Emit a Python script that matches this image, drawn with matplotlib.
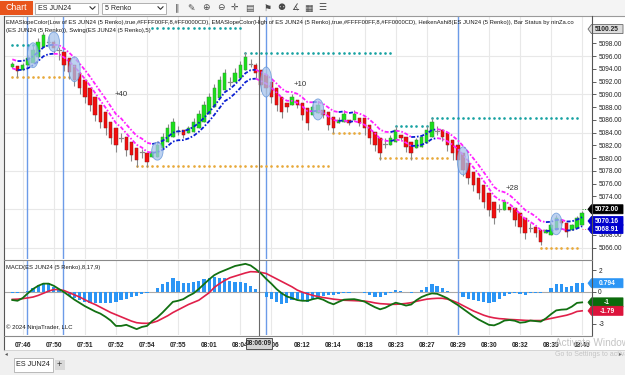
import numpy as np
import pandas as pd
import matplotlib
matplotlib.use("Agg")
import matplotlib.pyplot as plt
from matplotlib.patches import Rectangle, Ellipse, Polygon

plt.rcParams['font.family'] = ['Liberation Sans', 'DejaVu Sans']

# ---------------- data ----------------
ha_open = [5094.3, 5094.4, 5093.8, 5094.6, 5094.9, 5095.9, 5097.5, 5098.4, 5098.3, 5097.2,
           5096.7, 5095.7, 5094.6, 5093.4, 5092.3, 5091.0, 5089.6, 5088.4, 5087.3, 5085.7,
           5084.7, 5083.4, 5083.3, 5082.5, 5081.6, 5080.6, 5080.8, 5080.2, 5080.2, 5081.6,
           5082.5, 5083.3, 5084.5, 5084.4, 5084.0, 5084.1, 5084.7, 5085.7, 5087.0, 5088.0,
           5089.4, 5090.7, 5092.1, 5092.0, 5092.6, 5093.8, 5095.0, 5094.6, 5093.8, 5093.0,
           5092.0, 5091.0, 5089.6, 5088.7, 5088.4, 5089.1, 5088.7, 5087.9, 5086.8, 5087.1,
           5087.6, 5087.3, 5086.5, 5085.5, 5085.7, 5086.0, 5086.0, 5086.3, 5086.3, 5085.2,
           5084.1, 5083.2, 5082.5, 5082.1, 5082.5, 5083.6, 5083.3, 5082.5, 5081.6, 5081.8,
           5082.4, 5083.3, 5084.5, 5084.4, 5083.9, 5082.8, 5082.1, 5080.8, 5079.3, 5077.9,
           5076.9, 5075.8, 5074.6, 5073.2, 5072.3, 5071.9, 5072.4, 5072.2, 5071.4, 5070.6,
           5069.3, 5069.2, 5068.7, 5068.3, 5068.0, 5068.7, 5070.3, 5069.8, 5068.7, 5069.0,
           5069.5]
ha_close = [5094.8, 5093.6, 5094.6, 5095.7, 5097.0, 5098.2, 5099.3, 5098.2, 5097.3, 5096.9,
            5094.6, 5093.5, 5092.3, 5091.0, 5089.6, 5088.4, 5086.8, 5085.7, 5084.7, 5083.2,
            5082.0, 5083.2, 5081.3, 5080.5, 5079.7, 5080.9, 5079.4, 5080.9, 5082.1, 5083.3,
            5084.7, 5085.7, 5084.3, 5083.6, 5084.7, 5085.7, 5087.0, 5088.4, 5089.6, 5091.0,
            5092.3, 5093.4, 5091.9, 5093.4, 5094.6, 5095.9, 5094.8, 5093.4, 5091.5, 5091.0,
            5089.6, 5088.4, 5087.3, 5088.0, 5089.6, 5088.4, 5086.8, 5085.5, 5088.0, 5088.4,
            5086.8, 5085.2, 5084.7, 5086.0, 5087.0, 5085.5, 5087.0, 5085.5, 5084.7, 5083.2,
            5082.1, 5080.8, 5082.3, 5083.2, 5084.4, 5083.2, 5081.8, 5080.8, 5082.8, 5083.3,
            5084.4, 5085.7, 5084.3, 5083.3, 5082.1, 5080.8, 5079.7, 5078.2, 5076.9, 5075.8,
            5074.6, 5073.2, 5071.9, 5070.7, 5072.1, 5073.2, 5071.9, 5070.3, 5069.2, 5068.3,
            5069.1, 5068.3, 5066.9, 5068.7, 5069.5, 5070.6, 5069.8, 5068.4, 5069.5, 5070.6,
            5071.4]
wick_up = [0.3, 0, 0.3, 0.5, 0.6, 0.6, 0.5, 0.8, 0.3, 0.3,
           0, 0, 0, 0, 0, 0, 0, 0, 0, 0,
           0, 0.6, 0, 0, 0, 0.5, 0, 0.3, 0.6, 0.6,
           0.6, 0.6, 0.6, 0, 0.4, 0.6, 0.6, 0.6, 0.6, 0.6,
           0.6, 0.6, 0.6, 0.7, 0.7, 0.7, 0.5, 0.3, 0, 0,
           0, 0, 0, 0, 0.4, 0, 0, 0, 0.5, 0.5,
           0, 0, 0, 0.4, 0.6, 0, 0.5, 0, 0, 0,
           0, 0, 0.7, 0.4, 0.6, 0, 0, 0, 0.3, 0.4,
           0.6, 0.6, 0.6, 0.2, 0, 0, 0, 0, 0, 0,
           0, 0, 0, 0, 0.6, 0.4, 0, 0, 0, 0,
           0.6, 0, 0, 0.2, 0.3, 0.5, 0, 0, 0.2, 0.3, 0.4]
wick_dn = [0.2, 0.8, 0, 0, 0, 0, 0, 0.8, 0.8, 1.5,
           1, 1, 1, 1, 1, 1, 1, 1, 1, 1,
           1, 0.6, 1, 1, 1, 0.5, 0.8, 0, 0, 0,
           0, 0, 0.6, 0.5, 0, 0, 0, 0, 0, 0,
           0, 0, 0.6, 0, 0, 0, 0.5, 0.8, 1, 1,
           1, 1, 1, 0.8, 0, 0.6, 0.8, 1, 0, 0,
           0.5, 0.8, 0.8, 0, 0, 0.3, 0, 0.4, 1, 1,
           1, 1, 0.7, 0, 0, 0.4, 0.8, 1, 0, 0,
           0, 0, 0.6, 0.6, 1, 1, 1, 1, 1, 1,
           1, 1, 1, 1, 0.6, 0, 0.4, 1, 1, 1,
           0.6, 0.6, 0.5, 0, 0, 0, 0.3, 0.8, 0, 0, 0]

macd = [-0.78, -0.85, -0.6, -0.15, 0.25, 0.55, 0.75, 0.75, 0.55, 0.25,
        -0.05, -0.4, -0.75, -1.05, -1.35, -1.6, -1.85, -2.05, -2.35, -2.7,
        -3.2, -3.2, -3.1, -3.3, -3.5, -3.3, -3.2, -2.75, -2.4, -1.95,
        -1.45, -0.95, -0.85, -0.7, -0.4, -0.15, 0.25, 0.7, 1.15, 1.55,
        1.8, 2.0, 2.2, 2.4, 2.5, 2.6, 2.45, 2.1, 1.7, 1.2,
        0.75, 0.25, -0.15, -0.45, -0.6, -0.78, -0.85, -0.85, -0.7, -0.6,
        -0.75, -1.0, -1.18, -0.95, -0.75, -0.72, -0.7, -0.8, -0.93, -1.2,
        -1.45, -1.65, -1.5, -1.25, -1.03, -1.15, -1.3, -1.2, -0.8, -0.5,
        -0.3, -0.16, -0.2, -0.4, -0.62, -0.95, -1.25, -1.6, -1.95, -2.3,
        -2.6, -2.85, -3.1, -3.15, -2.96, -2.7, -2.65, -2.72, -2.9, -2.85,
        -2.7, -2.75, -2.8, -2.5, -2.1, -1.75, -1.68, -1.65, -1.4, -1.05, -1.0]
signal = [-0.72, -0.7, -0.65, -0.58, -0.5, -0.35, -0.15, 0.05, 0.2, 0.2,
          0.1, -0.1, -0.3, -0.5, -0.75, -1.0, -1.2, -1.45, -1.7, -1.95,
          -2.15, -2.35, -2.55, -2.75, -2.9, -2.95, -2.96, -2.9, -2.75, -2.5,
          -2.25, -1.95, -1.7, -1.45, -1.2, -1.0, -0.8, -0.45, -0.1, 0.4,
          0.75, 1.05, 1.3, 1.45, 1.6, 1.75, 1.87, 1.85, 1.8, 1.7,
          1.45, 1.2, 0.95, 0.7, 0.45, 0.15, -0.05, -0.2, -0.35, -0.45,
          -0.55, -0.62, -0.7, -0.75, -0.8, -0.82, -0.84, -0.86, -0.88, -0.95,
          -1.05, -1.12, -1.15, -1.18, -1.18, -1.15, -1.1, -1.03, -0.9, -0.8,
          -0.7, -0.65, -0.62, -0.62, -0.7, -0.85, -1.05, -1.3, -1.55, -1.8,
          -2.0, -2.2, -2.35, -2.45, -2.52, -2.55, -2.6, -2.62, -2.65, -2.68,
          -2.7, -2.7, -2.7, -2.6, -2.5, -2.4, -2.3, -2.2, -2.05, -1.85, -1.79]
hist = [-0.15, -0.12, -0.05, 0.1, 0.3, 0.6, 0.78, 0.78, 0.47, 0.22,
        0.0, -0.45, -0.62, -0.78, -0.93, -1.03, -1.09, -1.09, -1.09, -1.09,
        -0.93, -0.78, -0.7, -0.47, -0.42, -0.22, -0.16, -0.03, 0.31, 0.72,
        0.93, 1.25, 1.03, 0.84, 0.84, 0.93, 1.03, 1.15, 1.31, 1.34,
        1.31, 1.25, 1.03, 0.93, 0.87, 0.84, 0.53, 0.22, 0.0, -0.47,
        -0.72, -0.93, -1.15, -1.03, -0.78, -0.72, -0.78, -0.93, -0.72, -0.6,
        -0.4, -0.31, -0.31, -0.25, -0.16, -0.1, -0.06, -0.05, -0.16, -0.31,
        -0.47, -0.53, -0.31, -0.16, 0.16, 0.1, 0.0, -0.16, 0.0, 0.2,
        0.47, 0.68, 0.56, 0.31, 0.1, 0.0, -0.06, -0.47, -0.72, -0.78,
        -0.84, -0.93, -1.03, -1.0, -0.72, -0.4, -0.25, -0.16, -0.25, -0.31,
        -0.16, -0.1, -0.16, -0.06, 0.31, 0.68, 0.68, 0.47, 0.56, 0.78, 0.79]

time_labels = ['07:46', '07:50', '07:51', '07:52', '07:54', '07:55', '08:01', '08:04', '08:06',
               '08:12', '08:14', '08:18', '08:23', '08:27', '08:29', '08:30', '08:32', '08:35', '08:40']
time_label_bars = [2, 8, 14, 20, 26, 32, 38, 44, 50, 56, 62, 68, 74, 80, 86, 92, 98, 104, 110]
price_ticks = [5066, 5068, 5070, 5072, 5074, 5076, 5078, 5080, 5082, 5084, 5086, 5088,
               5090, 5092, 5094, 5096, 5098]
price_grid = [5066, 5072, 5078, 5084, 5090, 5096]
macd_ticks = [2, 0, -3]

# swing lines: (first bar, last bar, price)
swing_highs = [(0, 4, 5097.8), (27, 44, 5100.4), (45, 73, 5096.5), (74, 80, 5085.1), (81, 109, 5086.3)]
swing_lows = [(0, 11, 5092.7), (24, 61, 5078.8), (62, 67, 5083.9), (71, 84, 5080.1), (102, 109, 5066.0)]
# highlighted bars: (bar, low price, high price)
marks = [(4, 5094.2, 5098.1), (8, 5096.7, 5099.8), (12, 5092.0, 5095.9), (28, 5079.7, 5082.5),
         (49, 5089.6, 5094.3), (59, 5086.0, 5089.3), (87, 5077.4, 5081.8), (105, 5068.0, 5071.4)]
signal_bars = [2.8, 9.85, 48.9, 86.0]
notes = [(21, 5090.0, '+40'), (55.5, 5091.5, '+10'), (96.5, 5075.2, '+28')]

last_price = 5072.00
ema_hi_last, ema_lo_last = 5070.16, 5068.91
top_price_label = 5100.25

# ---------------- layout ----------------
W, H = 625, 375
fig = plt.figure(figsize=(W / 100, H / 100), dpi=100)
fig.patch.set_facecolor('#F0F0F0')


def pax(x0, y0, x1, y1):
    return fig.add_axes([x0 / W, 1 - y1 / H, (x1 - x0) / W, (y1 - y0) / H])


base = pax(0, 0, W, H)
base.set_xlim(0, W); base.set_ylim(H, 0); base.axis('off'); base.set_zorder(0)
base.add_patch(Rectangle((4, 16), W - 4, 334, fc='white', ec='none'))

PX0, PX1 = 5, 592
PY0, PY1 = 16, 259
MY0, MY1 = 260, 335
XL = (-1.41, 111.9)
PYL = (5064.2, 5102.3)
MYL = (-4.05, 2.96)

ap = pax(PX0, PY0, PX1, PY1)
am = pax(PX0, MY0, PX1, MY1)
for a in (ap, am):
    a.set_zorder(1)
    a.set_facecolor('white')
    a.set_xlim(*XL)
    for s in a.spines.values():
        s.set_visible(False)
    for b in time_label_bars:
        a.axvline(b, color='#E8E8E8', lw=0.8, zorder=0)
    for b in signal_bars:
        a.axvline(b, color='#6C9BE8', lw=1.0, zorder=1)
ap.set_ylim(*PYL)
am.set_ylim(*MYL)

x = np.arange(len(ha_close))
o = np.array(ha_open); c = np.array(ha_close)
hi = np.maximum(o, c) + np.array(wick_up)
lo = np.minimum(o, c) - np.array(wick_dn)

# price panel
for g in price_grid:
    ap.axhline(g, color='#E8E8E8', lw=0.8, zorder=0)
ap.set_xticks([])
ap.yaxis.tick_right()
ap.set_yticks(price_ticks)
ap.set_yticklabels([f'{v:.2f}' for v in price_ticks])
ap.tick_params(axis='y', length=3, width=0.6, color='#444444', labelsize=4.7, pad=1.5,
               labelcolor='#222222')

for (b0, b1, p) in swing_highs:
    ap.plot(np.arange(b0, b1 + 1), [p] * (b1 - b0 + 1), ls='none', marker='o', ms=1.9,
            mfc='#17A2A2', mec='none', zorder=2)
for (b0, b1, p) in swing_lows:
    ap.plot(np.arange(b0, b1 + 1), [p] * (b1 - b0 + 1), ls='none', marker='o', ms=1.9,
            mfc='#E8A93A', mec='none', zorder=2)

ap.vlines(x, lo, hi, color='#8A8A8A', lw=0.8, zorder=3)
for i in x:
    body = c[i] - o[i]
    if abs(body) < 0.35:
        ap.plot([i - 0.35, i + 0.35], [c[i], c[i]], color='#8A8A8A', lw=0.9, zorder=4)
        continue
    fc = '#19E019' if body > 0 else '#F20D0D'
    ec = '#3A8A3A' if body > 0 else '#8A2020'
    ap.add_patch(Rectangle((i - 0.33, min(o[i], c[i])), 0.66, abs(body), fc=fc, ec=ec,
                           lw=0.35, zorder=4))

# EMA slope colour lines (EMA 8 of renko high / low)
ema_hi = (pd.Series(ha_close) + 0.7).ewm(span=8, adjust=False).mean().values
ema_lo = (pd.Series(ha_close) - 0.7).ewm(span=8, adjust=False).mean().values
for e in (ema_hi, ema_lo):
    up = np.r_[e[1] > e[0], e[1:] > e[:-1]]
    start = 0
    for k in range(1, len(e) + 1):
        if k == len(e) or up[k] != up[start]:
            seg = slice(max(start - 1, 0), k)
            ap.plot(x[seg], e[seg], color='#0A1ED2' if up[start] else '#FF22FF', lw=1.3,
                    dashes=(2.2, 1.0, 0.9, 1.0), zorder=5, solid_capstyle='butt')
            start = k

for (b, l, h) in marks:
    ap.add_patch(Ellipse((b, (l + h) / 2), 2.2, h - l, fc='#A7C4EC', ec='#5B8FD6', lw=0.6,
                         alpha=0.75, zorder=6))
for (b, p, s) in notes:
    ap.text(b, p, s, fontsize=5.6, color='#333333', ha='center', va='center', zorder=7)

ap.plot([x[-1], XL[1]], [last_price, last_price], color='#2E8B2E', lw=0.7, ls=':', zorder=5)
ap.plot([x[-1], XL[1]], [ema_lo_last, ema_lo_last], color='#F07080', lw=0.7, ls=':', zorder=5)

# MACD panel
am.axhline(0, color='#A8A8A8', lw=0.8, zorder=0)
am.bar(x, hist, width=0.62, color='#2B95F5', zorder=2)
am.plot(x, signal, color='#E0204A', lw=1.2, zorder=3)
am.plot(x, macd, color='#127012', lw=1.3, zorder=4)
am.yaxis.tick_right()
am.set_yticks(macd_ticks)
am.set_yticklabels([str(v) for v in macd_ticks])
am.tick_params(axis='y', length=3, width=0.6, color='#444444', labelsize=4.7, pad=1.5,
               labelcolor='#222222')
am.set_xticks(time_label_bars)
am.set_xticklabels(time_labels)
am.tick_params(axis='x', length=0, pad=5, labelsize=4.7, labelcolor='#222222')
for t in am.get_xticklabels():
    t.set_fontweight('bold')

# ---------------- overlay chrome ----------------
ov = pax(0, 0, W, H)
ov.set_xlim(0, W); ov.set_ylim(H, 0); ov.axis('off'); ov.set_zorder(5)
ov.patch.set_alpha(0)


def py(v):
    return PY0 + (PYL[1] - v) / (PYL[1] - PYL[0]) * (PY1 - PY0)


def my(v):
    return MY0 + (MYL[1] - v) / (MYL[1] - MYL[0]) * (MY1 - MY0)


# borders
ov.plot([4, W], [16, 16], color='#9A9A9A', lw=0.8)
ov.plot([4, 4], [16, 350], color='#555555', lw=0.8)
ov.plot([PX1, PX1], [16, 335], color='#555555', lw=0.8)
ov.plot([4, PX1], [259.5, 259.5], color='#8A8A8A', lw=0.8)
ov.plot([4, PX1], [335.5, 335.5], color='#8A8A8A', lw=0.8)
ov.plot([4, W], [350, 350], color='#D0D0D0', lw=0.6)
# crosshair
ov.plot([259.3, 259.3], [16, 335], color='#6A6A6A', lw=0.8)


def value_box(yc, txt, fc, tc, ec=None, h=9.0):
    pts = [(588, yc), (591.5, yc - h / 2), (623, yc - h / 2), (623, yc + h / 2), (591.5, yc + h / 2)]
    ov.add_patch(Polygon(pts, closed=True, fc=fc, ec=ec if ec else fc, lw=0.6))
    ov.text(607, yc + 0.3, txt, color=tc, fontsize=4.8, ha='center', va='center',
            fontweight='bold')


value_box(py(top_price_label), f'{top_price_label:.2f}', '#DCDCDC', '#222222', '#6A6A6A')
value_box(py(last_price), f'{last_price:.2f}', '#000000', 'white')
value_box(py(ema_hi_last), f'{ema_hi_last:.2f}', '#0000CD', 'white')
value_box(py(ema_lo_last), f'{ema_lo_last:.2f}', '#0000CD', 'white')
value_box(my(hist[-1]), '0.794', '#2B95F5', 'white')
value_box(my(macd[-1]), '-1', '#0B6B0B', 'white')
value_box(my(signal[-1]), '-1.79', '#DC143C', 'white')

# crosshair time box
ov.add_patch(Rectangle((245.7, 337.5), 26, 11, fc='#D4D4D4', ec='#505050', lw=0.7))
ov.text(258.7, 343.2, '08:06:09', fontsize=4.7, ha='center', va='center', fontweight='bold',
        color='#222222')

fig.canvas.draw()


def fit_text(xp, yp, s, width_px, base_size=5.0, **kw):
    t = ov.text(xp, yp, s, fontsize=base_size, va='center', ha='left', **kw)
    fig.canvas.draw()
    w = t.get_window_extent().width
    t.set_fontsize(base_size * width_px / w)
    return t


fit_text(6, 22.3, 'EMASlopeColor(Low of ES JUN24 (5 Renko),true,#FFFF00FF,8,#FF0000CD), '
         'EMASlopeColor(High of ES JUN24 (5 Renko),true,#FFFF00FF,8,#FF0000CD), '
         'HeikenAshi8(ES JUN24 (5 Renko)), Bar Status by ninZa.co', 582, color='#1A1A1A')
fit_text(6, 30.5, '(ES JUN24 (5 Renko)), Swing(ES JUN24 (5 Renko),5)', 146, color='#1A1A1A')
fit_text(6.5, 267.5, 'MACD(ES JUN24 (5 Renko),8,17,9)', 96, color='#1A1A1A')
fit_text(6.5, 326.7, '\u00a9 2024 NinjaTrader, LLC', 67.5, color='#1A1A1A')

# toolbar
ov.add_patch(Rectangle((0, 0), W, 15.5, fc='#F4F4F4', ec='none', zorder=0))
ov.add_patch(Rectangle((0, 1), 33, 13.5, fc='#E8541C', ec='none'))
ov.text(16.5, 8, 'Chart', color='white', fontsize=6.3, ha='center', va='center')
for (x0, x1, s) in [(35, 98, 'ES JUN24'), (102, 166, '5 Renko')]:
    ov.add_patch(Rectangle((x0, 2.5), x1 - x0, 11, fc='white', ec='#A5A5A5', lw=0.6))
    ov.text(x0 + 3, 8.2, s, fontsize=5.0, va='center', color='#222222')
    ov.plot([x1 - 8, x1 - 5.5, x1 - 3], [6.8, 9.3, 6.8], color='#333333', lw=0.8)
icon_x = [177, 191, 206, 221, 234, 249, 268, 281, 295, 308, 322]
icon_glyph = ['\u2225', '\u270E', '\u2295', '\u2296', '\u271B', '\u25A4', '\u2691',
              '\u2689', '\u2221', '\u25A6', '\u2630']
for ix, g in zip(icon_x, icon_glyph):
    ov.text(ix, 8, g, fontsize=6.5, ha='center', va='center', color='#4A4A4A',
            family='DejaVu Sans')

# bottom tabs / scroll
ov.add_patch(Rectangle((0, 357), W, 18, fc='#F0F0F0', ec='none'))
ov.text(6, 354, '\u25c2', fontsize=4, ha='center', va='center', color='#555555')
ov.text(620, 354, '\u25b8', fontsize=4, ha='center', va='center', color='#555555')
ov.add_patch(Rectangle((14, 357.5), 38.5, 14.5, fc='white', ec='#B0B0B0', lw=0.6))
ov.text(33, 364.5, 'ES JUN24', fontsize=5.2, ha='center', va='center', color='#222222')
ov.add_patch(Rectangle((54.5, 360), 10, 10, fc='#D9D9D9', ec='none'))
ov.text(59.5, 365, '+', fontsize=6.5, ha='center', va='center', color='#333333')

# watermark
ov.text(555, 343, 'Activate Windows', fontsize=7.2, color='#C4C4C4', va='center', clip_on=True)
ov.text(555, 354, 'Go to Settings to activate Windows.', fontsize=5.0, color='#C4C4C4',
        va='center', clip_on=True)

fig.savefig('out.png', dpi=100, facecolor=fig.get_facecolor())
